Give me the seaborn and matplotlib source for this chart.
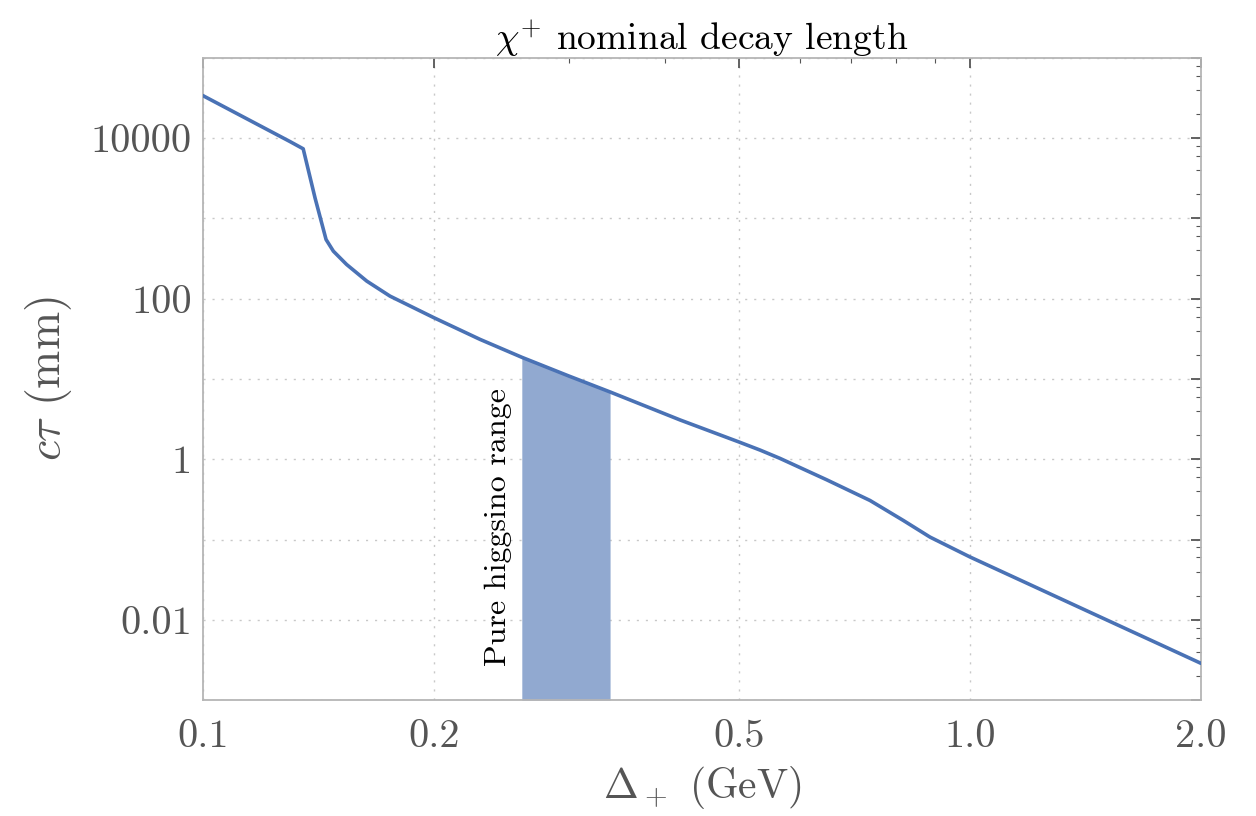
import numpy as np
import pandas as pd
import matplotlib
matplotlib.use("Agg")
import matplotlib.pyplot as plt
import matplotlib.ticker as mticker
import seaborn as sns

# values (GeV, log10 of mm)
delta = [0.100, 0.1298, 0.1351, 0.1400, 0.1447, 0.1479, 0.1539, 0.1635,
         0.1753, 0.200, 0.2297, 0.2604, 0.3000, 0.3394, 0.4188, 0.500,
         0.5324, 0.565, 0.6505, 0.7406, 0.8185, 0.8867, 1.000, 1.1834,
         1.445, 1.769, 2.000]
log_ctau = [4.53, 3.959, 3.868, 3.255, 2.738, 2.593, 2.427, 2.220,
            2.033, 1.764, 1.494, 1.271, 1.037, 0.839, 0.49, 0.215,
            0.115, 0.012, -0.256, -0.513, -0.762, -0.969, -1.217, -1.539,
            -1.921, -2.307, -2.542]
ctau = [10 ** v for v in log_ctau]
higgsino_lo, higgsino_hi = 0.2604, 0.3394

df = pd.DataFrame({"delta": delta, "ctau": ctau})

sns.set_theme(style="white")
plt.rcParams["font.family"] = ["cmr10", "DejaVu Serif"]
plt.rcParams["mathtext.fontset"] = "cm"
plt.rcParams["axes.formatter.use_mathtext"] = True

line_col = "#4a72b5"
fill_col = "#91a9d0"
grey = "#555555"

fig = plt.figure(figsize=(12.56, 8.16), dpi=100)
ax = fig.add_axes([0.1616, 0.142, 0.7946, 0.787])

band = df[(df.delta >= higgsino_lo) & (df.delta <= higgsino_hi)]
ax.fill_between(band.delta, 1e-3, band.ctau, color=fill_col, lw=0, zorder=1)
sns.lineplot(data=df, x="delta", y="ctau", ax=ax, color=line_col, lw=2.6, zorder=3)

ax.set_xscale("log")
ax.set_yscale("log")
ax.set_xlim(0.1, 2.0)
ax.set_ylim(1e-3, 1e5)

ax.xaxis.set_major_locator(mticker.FixedLocator([0.1, 0.2, 0.5, 1.0, 2.0]))
ax.xaxis.set_major_formatter(mticker.FixedFormatter(["0.1", "0.2", "0.5", "1.0", "2.0"]))
ax.xaxis.set_minor_locator(mticker.FixedLocator([0.3, 0.4, 0.6, 0.7, 0.8, 0.9]))
ax.xaxis.set_minor_formatter(mticker.NullFormatter())

yt = [10.0 ** k for k in range(-3, 6)]
ylab = {1e4: "10000", 1e2: "100", 1.0: "1", 1e-2: "0.01"}
ax.yaxis.set_major_locator(mticker.FixedLocator(yt))
ax.yaxis.set_major_formatter(mticker.FuncFormatter(
    lambda v, p: next((s for k, s in ylab.items() if abs(np.log10(v) - np.log10(k)) < 1e-6), "")))
ax.yaxis.set_minor_locator(mticker.LogLocator(base=10, subs=[2, 4, 6, 8], numticks=20))
ax.yaxis.set_minor_formatter(mticker.NullFormatter())

ax.tick_params(which="both", direction="in", top=True, right=True, colors=grey,
               labelsize=29, labelcolor=grey)
ax.tick_params(which="major", length=7, width=1.3)
ax.tick_params(which="minor", length=3.5, width=0.8)
ax.tick_params(axis="x", pad=14)
ax.tick_params(axis="y", pad=8)

for s in ax.spines.values():
    s.set_color("#b5b5b5")
    s.set_linewidth(1.3)

ax.grid(True, which="major", color="#c8c8c8", ls=(0, (1.5, 5)), lw=1.0)
ax.set_axisbelow(True)

ax.set_xlabel(r"$\Delta_+$ (GeV)", fontsize=30, color=grey, labelpad=6)
ax.set_ylabel(r"$c\tau$ (mm)", fontsize=33, color=grey, labelpad=12)
ax.set_title(r"$\chi^{+}$ nominal decay length", fontsize=27, color="black", pad=6)

ax.text(0.243, 0.0027, "Pure higgsino range", rotation=90, fontsize=23,
        ha="center", va="bottom", color="black")

fig.savefig("out.png", dpi=100)
